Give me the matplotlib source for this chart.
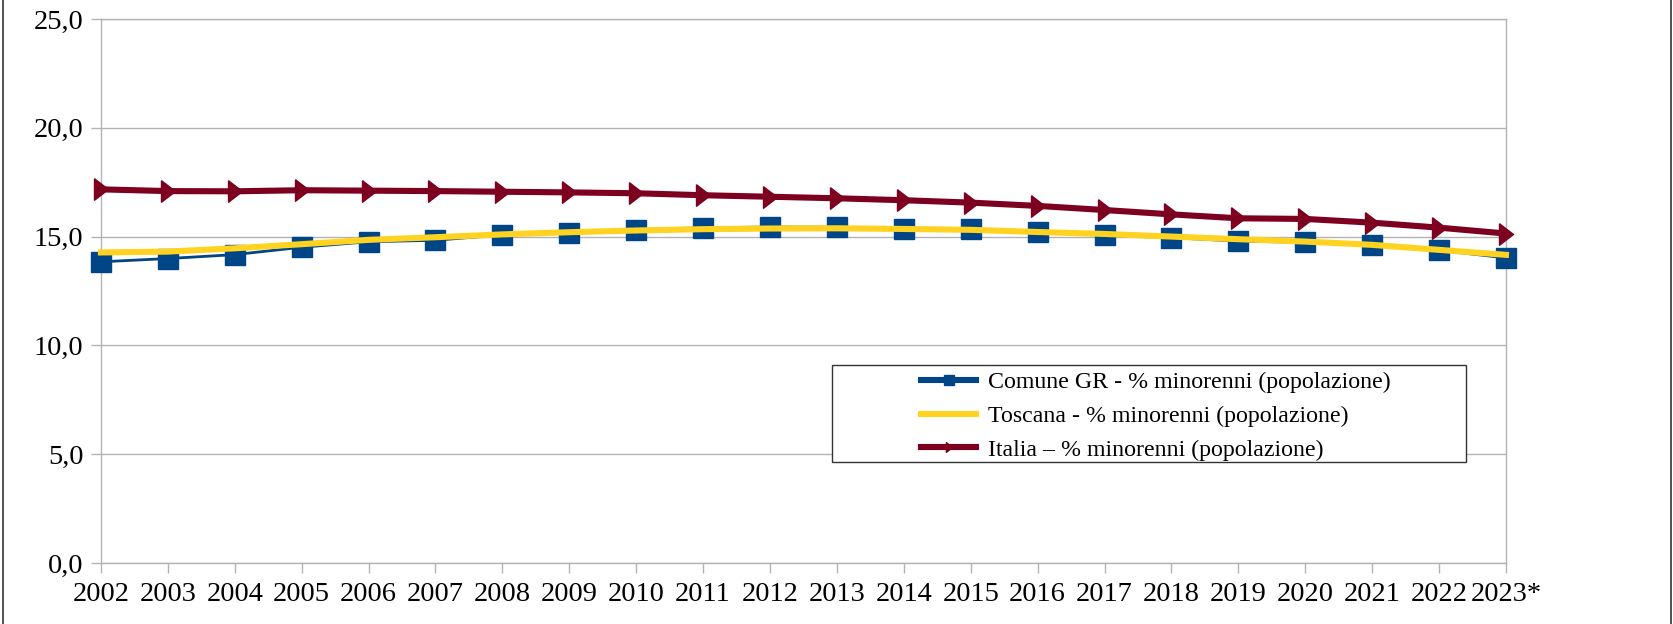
import matplotlib
matplotlib.use("Agg")
import matplotlib.pyplot as plt
from matplotlib.lines import Line2D
from matplotlib.patches import Rectangle

plt.rcParams['font.family'] = ['Liberation Serif', 'DejaVu Serif']

# Data
years = ['2002', '2003', '2004', '2005', '2006', '2007', '2008', '2009', '2010', '2011', '2012',
         '2013', '2014', '2015', '2016', '2017', '2018', '2019', '2020', '2021', '2022', '2023*']
comune = [13.84, 13.99, 14.17, 14.51, 14.76, 14.83, 15.08, 15.18, 15.32, 15.40, 15.44,
          15.43, 15.34, 15.34, 15.20, 15.06, 14.95, 14.79, 14.74, 14.60, 14.37, 14.02]
toscana = [14.27, 14.31, 14.46, 14.65, 14.85, 14.97, 15.10, 15.20, 15.28, 15.34, 15.37,
           15.38, 15.35, 15.31, 15.21, 15.12, 15.00, 14.88, 14.77, 14.62, 14.39, 14.16]
italia = [17.17, 17.09, 17.08, 17.13, 17.11, 17.09, 17.06, 17.03, 16.99, 16.90, 16.83,
          16.76, 16.67, 16.56, 16.41, 16.22, 16.02, 15.84, 15.81, 15.64, 15.41, 15.14]
labels = ['Comune GR - % minorenni (popolazione)',
          'Toscana - % minorenni (popolazione)',
          'Italia \u2013 % minorenni (popolazione)']
yticks = [0, 5, 10, 15, 20, 25]

blue = '#004586'
yellow = '#ffd320'
red = '#7e0021'
grid = '#b3b3b3'

# arrow-like marker (tall triangle pointing right)
arrow = [(-0.65, 1.0), (0.65, 0.0), (-0.65, -1.0), (-0.65, 1.0)]

fig = plt.figure(figsize=(16.74, 6.24), dpi=100)
ax = fig.add_axes([0.0603, 0.0978, 0.8393, 0.8718])

x = list(range(len(years)))
ax.plot(x, comune, color=blue, lw=2.0, marker='s', ms=14.5, mec=blue, zorder=3, clip_on=False)
ax.plot(x, toscana, color=yellow, lw=4.4, zorder=4, clip_on=False)
ax.plot(x, italia, color=red, lw=4.4, marker=arrow, ms=15.5, mec=red, zorder=5, clip_on=False)

ax.set_xlim(0, len(years) - 1)
ax.set_ylim(0, 25)
ax.set_xticks(x)
ax.set_xticklabels(years)
ax.set_yticks(yticks)
ax.set_yticklabels([('%.1f' % v).replace('.', ',') for v in yticks])
ax.yaxis.grid(True, color=grid, lw=1.0)
ax.set_axisbelow(True)
for s in ax.spines.values():
    s.set_color(grid)
    s.set_linewidth(1.0)
ax.tick_params(axis='both', colors=grid, labelcolor='black', labelsize=20.5, length=7.5, width=1.0)
ax.tick_params(axis='x', pad=6)
ax.tick_params(axis='y', pad=5)

# legend box
ax.add_patch(Rectangle((0.520, 0.186), 0.4515, 0.178, transform=ax.transAxes,
                       facecolor='white', edgecolor='#333333', lw=1.0, zorder=6))
handles = [Line2D([], [], color=blue, lw=4.4, marker='s', ms=7.5),
           Line2D([], [], color=yellow, lw=4.4),
           Line2D([], [], color=red, lw=4.4, marker=arrow, ms=7)]
leg = ax.legend(handles, labels, loc='upper left', bbox_to_anchor=(0.584, 0.352),
                frameon=False, fontsize=17.2, borderpad=0, borderaxespad=0,
                handlelength=2.3, handletextpad=0.5, labelspacing=0.5, numpoints=1)
leg.set_zorder(7)

# outer frame edges
fig.add_artist(Line2D([3.5 / 1674] * 2, [0, 1], color='#333333', lw=1.2))
fig.add_artist(Line2D([1671.5 / 1674] * 2, [0, 1], color='#333333', lw=1.2))

fig.savefig('out.png', dpi=100)
